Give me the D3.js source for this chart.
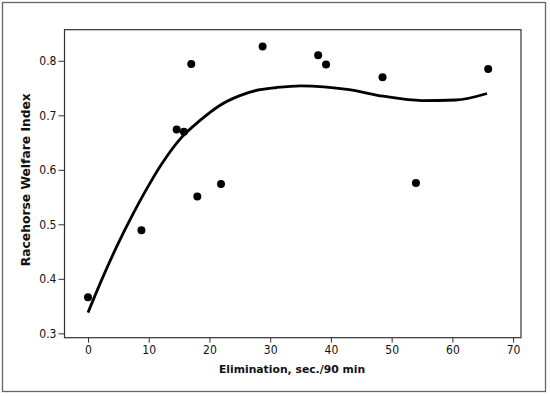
<!DOCTYPE html>
<html><head><meta charset="utf-8">
<script src="https://cdn.jsdelivr.net/npm/d3@7/dist/d3.min.js"></script>
<style>
body{margin:0;background:#fff;}
svg{display:block;}
</style></head>
<body>
<script>
// Data
const elimination = [0, 8.8, 14.6, 15.8, 17.0, 18.0, 21.9, 28.75, 37.9, 39.2, 48.5, 54.0, 65.9];
const welfare     = [0.366, 0.489, 0.674, 0.670, 0.794, 0.551, 0.574, 0.826, 0.810, 0.793, 0.770, 0.576, 0.785];
const fitX = [0, 2.25, 4.72, 7.46, 10.5, 12.1, 15.05, 18.5, 21.7, 25.0, 28.3, 31.1, 35, 43, 48.6, 55, 60.5, 65.7];
const fitY = [0.338, 0.398, 0.459, 0.520, 0.581, 0.610, 0.655, 0.691, 0.718, 0.736, 0.747, 0.751, 0.754, 0.747, 0.735, 0.727, 0.728, 0.740];
const xTicks = [0, 10, 20, 30, 40, 50, 60, 70];
const yTicks = [0.3, 0.4, 0.5, 0.6, 0.7, 0.8];
const xTitle = "Elimination, sec./90 min";
const yTitle = "Racehorse Welfare Index";

const W = 550, H = 396;
const L = 64.5, T = 29.7, R = 521, B = 337.7;

const svg = d3.select("body").append("svg").attr("width", W).attr("height", H);

// outer border
svg.append("rect").attr("x", 2.5).attr("y", 2.5).attr("width", 543).attr("height", 389)
  .attr("fill", "none").attr("stroke", "#666").attr("stroke-width", 1.3);

const x = d3.scaleLinear().domain([-3.87, 71.3]).range([L, R]);
const y = d3.scaleLinear().domain([0.292, 0.857]).range([B, T]);

const tickFont = "'DejaVu Sans Condensed','DejaVu Sans',sans-serif";

const gx = svg.append("g").attr("transform", `translate(0,${B})`)
  .call(d3.axisBottom(x).tickValues(xTicks).tickFormat(d3.format("d")).tickSize(5).tickPadding(3));
const gy = svg.append("g").attr("transform", `translate(${L},0)`)
  .call(d3.axisLeft(y).tickValues(yTicks).tickFormat(d3.format(".1f")).tickSize(6).tickPadding(2));
[gx, gy].forEach(g => {
  g.select(".domain").remove();
  g.selectAll("line").attr("stroke", "#333");
  g.selectAll("text").attr("font-family", tickFont).attr("font-size", "12px").attr("fill", "#111");
});

// frame
svg.append("rect").attr("x", L).attr("y", T).attr("width", R - L).attr("height", B - T)
  .attr("fill", "none").attr("stroke", "#333").attr("stroke-width", 1.2);

// fitted curve
const fit = fitX.map((v, i) => [v, fitY[i]]);
svg.append("path").datum(fit)
  .attr("d", d3.line().x(d => x(d[0])).y(d => y(d[1])).curve(d3.curveMonotoneX))
  .attr("fill", "none").attr("stroke", "#000").attr("stroke-width", 2.8);

// points
svg.append("g").selectAll("circle").data(elimination).join("circle")
  .attr("cx", d => x(d)).attr("cy", (d, i) => y(welfare[i])).attr("r", 4).attr("fill", "#000");

// titles
svg.append("text").attr("x", 292).attr("y", 373).attr("text-anchor", "middle")
  .attr("font-family", "'DejaVu Sans',sans-serif").attr("font-weight", "bold").attr("font-size", "10.8px")
  .attr("fill", "#111").text(xTitle);
svg.append("text").attr("transform", `translate(30,${(T + B) / 2 - 4}) rotate(-90)`).attr("text-anchor", "middle")
  .attr("font-family", "'DejaVu Sans',sans-serif").attr("font-weight", "bold").attr("font-size", "12.3px")
  .attr("fill", "#111").text(yTitle);
</script>
</body></html>
